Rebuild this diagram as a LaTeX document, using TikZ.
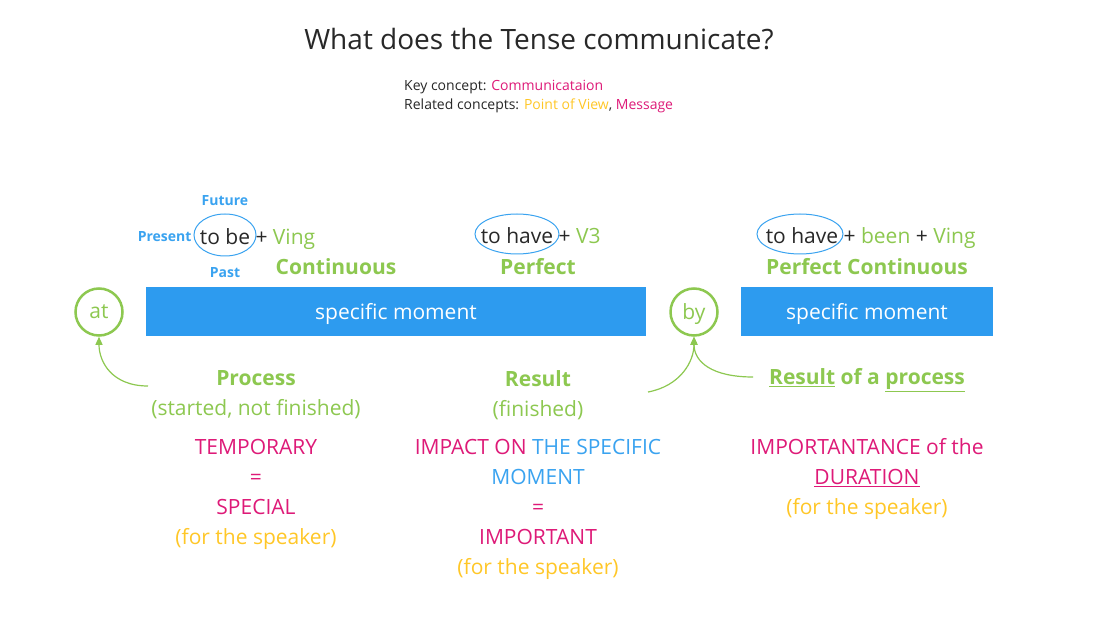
\documentclass[tikz,border=0pt]{standalone}
\usepackage{fontspec}
\setmainfont{Open Sans}
\usetikzlibrary{arrows.meta,positioning,shapes.geometric}
\definecolor{tenseBlue}{RGB}{45,155,239}
\definecolor{tenseSky}{RGB}{58,163,240}
\definecolor{tenseGreen}{RGB}{141,200,80}
\definecolor{tensePink}{RGB}{222,26,120}
\definecolor{tenseGold}{RGB}{255,199,39}
\definecolor{tenseInk}{RGB}{40,40,40}

\begin{document}
\begin{tikzpicture}[x=1pt, y=-1pt,
    every node/.style={font=\fontsize{21}{30}\selectfont, text=tenseInk},
    bar/.style={rectangle, fill=tenseBlue, text=white, minimum height=49pt, inner sep=0pt,
                text depth=0pt},
    ring/.style={circle, draw=tenseGreen, line width=2.5pt, minimum size=47pt,
                 inner sep=0pt, text=tenseGreen, text depth=0pt},
    oval/.style={draw=tenseSky, line width=1pt},
    tense/.style={font=\fontsize{14}{16}\selectfont\bfseries, text=tenseSky, inner sep=1pt},
    word/.style={inner sep=1pt},
    kind/.style={font=\fontsize{21}{30}\selectfont\bfseries, text=tenseGreen},
    note/.style={font=\fontsize{14}{19}\selectfont, text=tenseInk, inner sep=0pt},
    block/.style={align=center},
    link/.style={-{Triangle[length=8pt, width=7pt]}, tenseGreen, line width=1.2pt}
  ]
  \useasboundingbox[fill=white] (0,0) rectangle (1116,620);

  % heading
  \node[font=\fontsize{28}{32}\selectfont] (title) at (539,39) {What does the Tense communicate?};
  \node[note, anchor=west] (key) at (404,87) {Key concept: \textcolor{tensePink}{Communicataion}};
  \node[note, anchor=west] (rel) at (404,106)
    {Related concepts: \textcolor{tenseGold}{Point of View}, \textcolor{tensePink}{Message}};

  % formulas
  \node[word] (tobe) at (225,237) {to be};
  \draw[oval] (225,235) ellipse [x radius=31pt, y radius=21pt];
  \node[word, right=3pt of tobe.base east, anchor=base west] (ving) {+ \textcolor{tenseGreen}{Ving}};
  \node[tense, left=6pt of tobe] (present) {Present};
  \node[tense] (future) at (225,201) {Future};
  \node[tense] (past) at (225,273) {Past};

  \node[word] (have1) at (517,236) {to have};
  \draw[oval] (517,234) ellipse [x radius=42pt, y radius=20pt];
  \node[word, right=3pt of have1.base east, anchor=base west] (vthree) {+ \textcolor{tenseGreen}{V3}};

  \node[word] (have2) at (802,236) {to have};
  \draw[oval] (800,234) ellipse [x radius=43pt, y radius=20pt];
  \node[word, right=3pt of have2.base east, anchor=base west] (been)
    {+ \textcolor{tenseGreen}{been} + \textcolor{tenseGreen}{Ving}};

  \node[kind] (cont) at (336,267) {Continuous};
  \node[kind] (perf) at (538,267) {Perfect};
  \node[kind] (pcont) at (867,267) {Perfect Continuous};

  % time line
  \node[ring] (at) at (99,312) {at};
  \node[bar, minimum width=500pt] (moment1) at (396,311.5) {specific moment};
  \node[ring] (by) at (694,312) {by};
  \node[bar, minimum width=252pt] (moment2) at (867,311.5) {specific moment};

  % meanings
  \node[block, text=tenseGreen] (process) at (256,395) {\textbf{Process}\\(started, not finished)};
  \node[block, text=tenseGreen] (result) at (538,395) {\textbf{Result}\\(finished)};
  \node[kind] (resproc) at (867,380) {\underline{Result} of a \underline{process}};

  \node[block, text=tensePink] (temp) at (256,494)
    {TEMPORARY\\=\\SPECIAL\\\textcolor{tenseGold}{(for the speaker)}};
  \node[block, text=tensePink] (impact) at (538,509)
    {IMPACT ON \textcolor{tenseSky}{THE SPECIFIC}\\\textcolor{tenseSky}{MOMENT}\\=\\IMPORTANT\\\textcolor{tenseGold}{(for the speaker)}};
  \node[block, text=tensePink] (duration) at (867,479)
    {IMPORTANTANCE of the\\\underline{DURATION}\\\textcolor{tenseGold}{(for the speaker)}};

  % arrows to the prepositions
  \coordinate (procTail) at (148,386);
  \coordinate (resTail) at (648,392);
  \coordinate (pcTail) at (753,377);
  \draw[link] (procTail) .. controls (112,386) and (99,362) .. (at.south);
  \draw[link] (resTail) .. controls (680,386) and (694,362) .. (by.south);
  \draw[link] (pcTail) .. controls (712,377) and (694,362) .. (by.south);
\end{tikzpicture}
\end{document}
